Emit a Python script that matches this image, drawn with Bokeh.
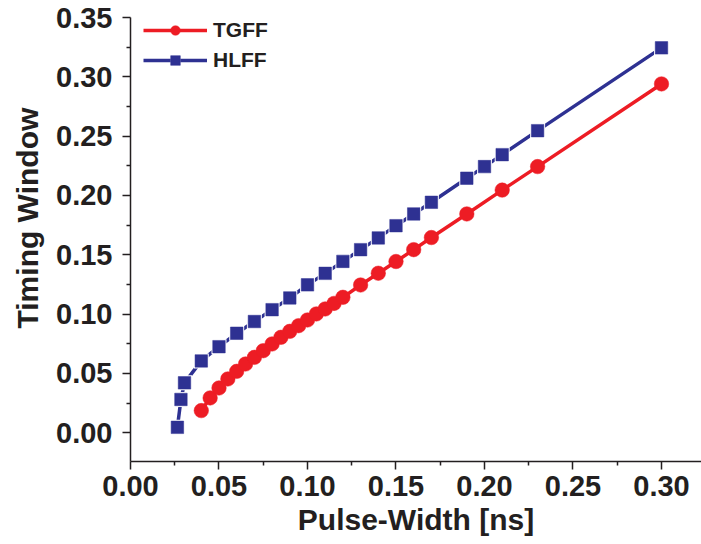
from bokeh.plotting import figure
from bokeh.models import Range1d, Legend, LegendItem, Title, FixedTicker, NumeralTickFormatter
from bokeh.embed import file_html
from bokeh.resources import INLINE

# ---- data ----
tgff_x = [0.040, 0.045, 0.050, 0.055, 0.060, 0.065, 0.070, 0.075, 0.080, 0.085,
          0.090, 0.095, 0.100, 0.105, 0.110, 0.115, 0.120, 0.130, 0.140, 0.150,
          0.160, 0.170, 0.190, 0.210, 0.230, 0.300]
tgff_y = [0.0186, 0.0293, 0.0377, 0.0453, 0.0517, 0.0579, 0.0635, 0.0691, 0.0748, 0.0804,
          0.0854, 0.0902, 0.0950, 0.1001, 0.1043, 0.1090, 0.1141, 0.1245, 0.1344, 0.1443,
          0.1543, 0.1645, 0.1844, 0.2045, 0.2243, 0.2940]

hlff_x = [0.0265, 0.0285, 0.0305, 0.040, 0.050, 0.060, 0.070, 0.080, 0.090, 0.100,
          0.110, 0.120, 0.130, 0.140, 0.150, 0.160, 0.170, 0.190, 0.200, 0.210,
          0.230, 0.300]
hlff_y = [0.0045, 0.0280, 0.0420, 0.0605, 0.0725, 0.0838, 0.0937, 0.1037, 0.1136, 0.1246,
          0.1343, 0.1444, 0.1543, 0.1642, 0.1745, 0.1844, 0.1942, 0.2145, 0.2243, 0.2344,
          0.2546, 0.3244]

x_ticks = [0.00, 0.05, 0.10, 0.15, 0.20, 0.25, 0.30]
y_ticks = [0.00, 0.05, 0.10, 0.15, 0.20, 0.25, 0.30, 0.35]
x_minor = [t + 0.025 for t in x_ticks] + [-0.025]
y_minor = [t + 0.025 for t in y_ticks] + [-0.025]

RED = "#ED1C24"
BLUE = "#2E3192"
TXT = "#231F20"
FONT = "Liberation Sans"

p = figure(width=701, height=544, output_backend="svg", toolbar_location=None,
           x_range=Range1d(0.0, 0.3226), y_range=Range1d(-0.0243, 0.35),
           min_border_left=130, min_border_right=0, min_border_top=17, min_border_bottom=83)
p.background_fill_color = "white"
p.border_fill_color = "white"
p.outline_line_color = None
p.xgrid.visible = False
p.ygrid.visible = False

r_tl = p.line(tgff_x, tgff_y, line_color=RED, line_width=3.5)
r_tm = p.scatter(tgff_x, tgff_y, marker="circle", size=14.5, fill_color=RED, line_color=RED, line_width=0.5)
r_hl = p.line(hlff_x, hlff_y, line_color=BLUE, line_width=3.5)
r_hh = p.scatter(hlff_x, hlff_y, marker="square", size=15, fill_color="white", line_color=None)
r_hm = p.scatter(hlff_x, hlff_y, marker="square", size=12.5, fill_color=BLUE, line_color=BLUE, line_width=0.5)

for ax, ticks, minor in ((p.xaxis[0], x_ticks, x_minor), (p.yaxis[0], y_ticks, y_minor)):
    ax.ticker = FixedTicker(ticks=ticks, minor_ticks=minor)
    ax.formatter = NumeralTickFormatter(format="0.00")
    ax.axis_line_width = 1.5
    ax.axis_line_color = TXT
    ax.major_tick_line_color = TXT
    ax.minor_tick_line_color = TXT
    ax.major_tick_line_width = 1.5
    ax.minor_tick_line_width = 1.5
    ax.major_tick_out = 8
    ax.major_tick_in = 0
    ax.minor_tick_out = 4
    ax.minor_tick_in = 0
    ax.major_label_text_font = FONT
    ax.major_label_text_font_style = "bold"
    ax.major_label_text_font_size = "29px"
    ax.major_label_text_color = TXT
    ax.axis_label_text_font = FONT
    ax.axis_label_text_font_style = "bold"
    ax.axis_label_text_font_size = "30px"
    ax.axis_label_text_color = TXT

p.xaxis[0].major_label_standoff = 6
p.yaxis[0].major_label_standoff = 10
p.xaxis[0].axis_label = "Pulse-Width [ns]"
p.xaxis[0].axis_label_standoff = 4

ytitle = Title(text="Timing Window", align="left", offset=133, vertical_align="middle",
               text_font=FONT, text_font_style="bold", text_font_size="30px", text_color=TXT,
               standoff=18)
p.add_layout(ytitle, "left")

legend = Legend(items=[LegendItem(label="TGFF", renderers=[r_tl, r_tm]),
                       LegendItem(label="HLFF", renderers=[r_hl, r_hh, r_hm])],
                location=(13, 389), orientation="vertical")
legend.margin = 0
legend.padding = 0
legend.spacing = 6
legend.glyph_width = 64
legend.glyph_height = 24
legend.label_height = 24
legend.label_standoff = 6
legend.label_text_font = FONT
legend.label_text_font_style = "bold"
legend.label_text_font_size = "21px"
legend.label_text_color = TXT
legend.background_fill_alpha = 0
legend.border_line_color = None
p.add_layout(legend)

open("out.html", "w").write(file_html(p, INLINE))
